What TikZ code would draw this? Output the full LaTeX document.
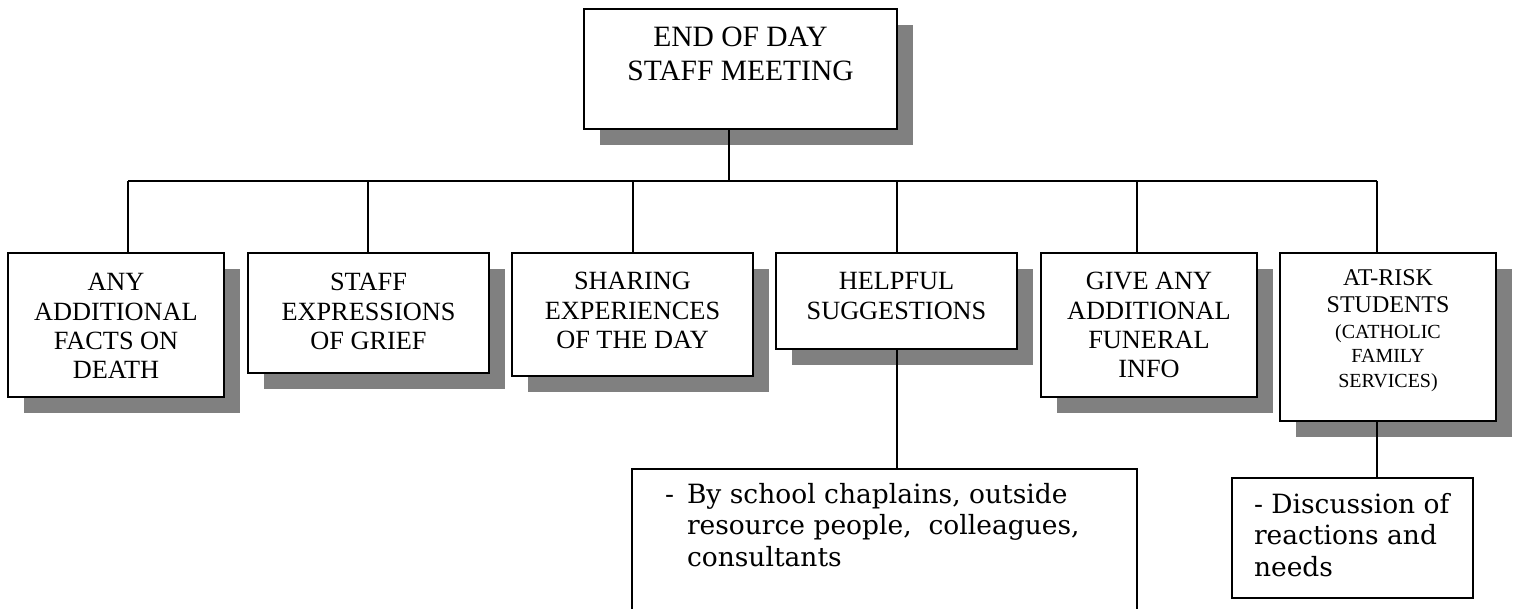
\documentclass[tikz,border=0pt]{standalone}
\usepackage{fontspec}
\setmainfont{Liberation Serif}
\newfontfamily\notefont{DejaVu Serif}
\usetikzlibrary{shadows}
\definecolor{shadowgray}{HTML}{808080}

% box body: width, height, first baseline from the top, font, lines
\newcommand\cardtext[5]{\parbox[c][#2][t]{#1}{#4\centering\rule{0pt}{#3}#5}}
\newcommand\bigfont{\fontsize{29.5}{34}\selectfont}
\newcommand\midfont{\fontsize{26.3}{29.2}\selectfont}
\newcommand\notesize{\notefont\fontsize{26.5}{31.7}\selectfont}

\tikzset{
  card/.style={draw=black, line width=1.8pt, fill=white, inner sep=0pt, outer sep=0pt,
    anchor=north west,
    drop shadow={shadow xshift=16pt, shadow yshift=-16pt, fill=shadowgray, opacity=1}},
  note/.style={draw=black, line width=1.6pt, fill=white, inner sep=0pt, outer sep=0pt,
    anchor=north west},
  link/.style={draw=black, line width=1.6pt},
}

\begin{document}
\begin{tikzpicture}[x=1pt, y=-1pt]
\useasboundingbox (0,0) rectangle (1520,609);

% top of the tree
\node[card] (top) at (584,9)
  {\cardtext{313pt}{120pt}{38pt}{\bigfont}{END OF DAY\\STAFF MEETING}};

% second row
\node[card] (b1) at (8,253)
  {\cardtext{216pt}{144pt}{38pt}{\midfont}{ANY\\ADDITIONAL\\FACTS ON\\DEATH}};
\node[card] (b2) at (248,253)
  {\cardtext{241pt}{120pt}{38pt}{\midfont}{STAFF\\EXPRESSIONS\\OF GRIEF}};
\node[card] (b3) at (512,253)
  {\cardtext{241pt}{123pt}{37pt}{\midfont}{SHARING\\EXPERIENCES\\OF THE DAY}};
\node[card] (b4) at (776,253)
  {\cardtext{241pt}{96pt}{37pt}{\midfont}{HELPFUL\\SUGGESTIONS}};
\node[card] (b5) at (1041,253)
  {\cardtext{216pt}{144pt}{37pt}{\midfont}{GIVE ANY\\ADDITIONAL\\FUNERAL\\INFO}};
\node[card] (b6) at (1280,253)
  {\parbox[c][168pt][t]{216pt}{\centering\fontsize{24}{27}\selectfont
     \rule{0pt}{33pt}AT-RISK\\STUDENTS\par
     {\fontsize{20}{25}\selectfont (CATHOLIC\\FAMILY\\SERVICES)\par}}};

% notes under the second row
\node[note] (n4) at (632,469)
  {\parbox[c][160pt][t]{505pt}{\notesize\rule{0pt}{34pt}\hspace*{33pt}\makebox[22pt][l]{-}%
     \parbox[t]{440pt}{\raggedright By school chaplains, outside\\resource people,\ \ colleagues,\\consultants}}};
\node[note] (n6) at (1232,478)
  {\parbox[c][120pt][t]{241pt}{\notesize\raggedright\leftskip=22pt
     \rule{0pt}{35pt}- Discussion of\\reactions and\\needs}};

% connector bus
\coordinate (hub) at (729,181);
\coordinate (d1) at (128,181);
\coordinate (d2) at (368,181);
\coordinate (d3) at (633,181);
\coordinate (d4) at (897,181);
\coordinate (d5) at (1137,181);
\coordinate (d6) at (1377,181);

\draw[link] (top.south -| hub) -- (hub);
\draw[link] (d1) -- (d6);
\draw[link] (d1) -- (d1 |- b1.north);
\draw[link] (d2) -- (d2 |- b2.north);
\draw[link] (d3) -- (d3 |- b3.north);
\draw[link] (d4) -- (d4 |- b4.north);
\draw[link] (d5) -- (d5 |- b5.north);
\draw[link] (d6) -- (d6 |- b6.north);
\draw[link] (b4.south -| d4) -- (n4.north -| d4);
\draw[link] (b6.south -| d6) -- (n6.north -| d6);
\end{tikzpicture}
\end{document}
